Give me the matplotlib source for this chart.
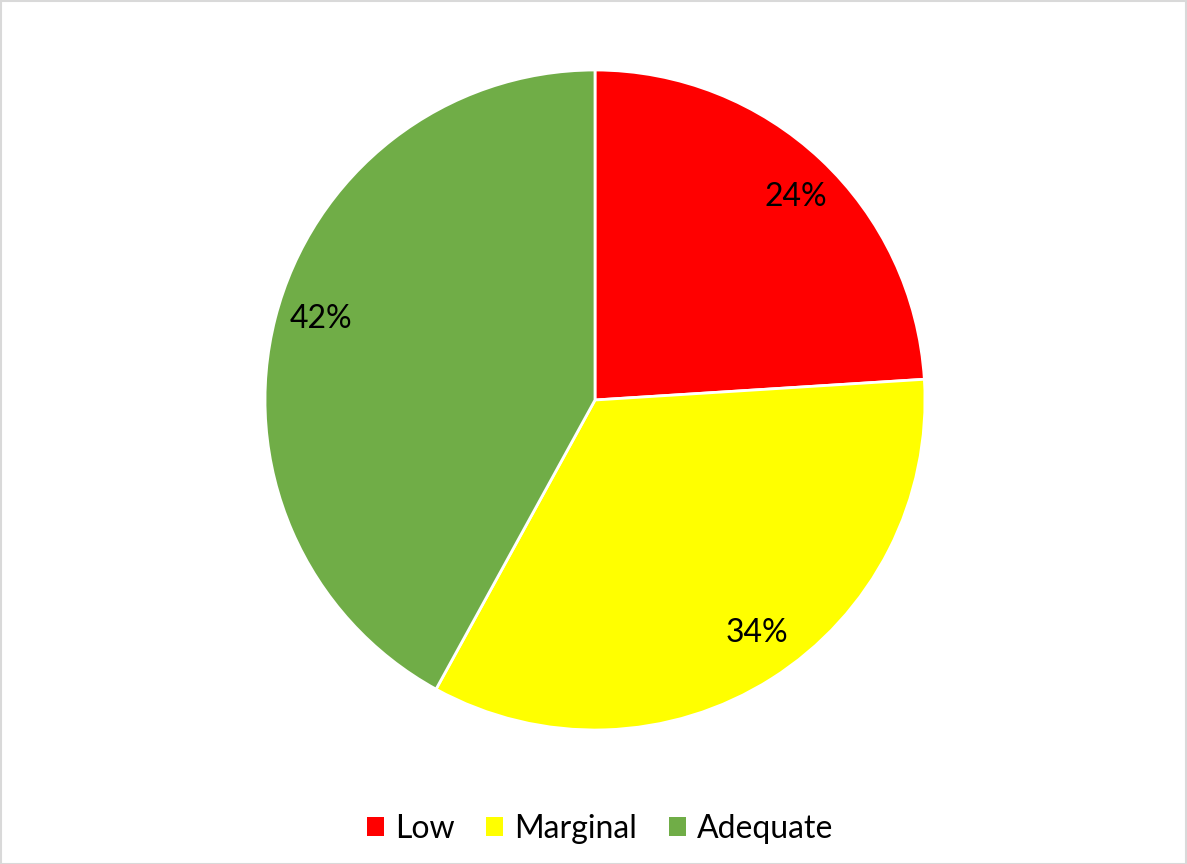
import matplotlib.pyplot as plt
from matplotlib.patches import Patch, Rectangle
import numpy as np

categories = ["Low", "Marginal", "Adequate"]
shares = [24, 34, 42]
colors = ["#FF0000", "#FFFF00", "#70AD47"]

# where each percentage label sits: (angle in degrees, radius as fraction of pie)
label_spots = [(45.4, 0.865), (-55.2, 0.86), (163.5, 0.867)]

plt.rcParams["font.family"] = ["Lato", "DejaVu Sans"]

W, H = 1187, 864
fig = plt.figure(figsize=(W / 100, H / 100), dpi=100)

cx, cy, r = 595, H - 400, 330
ax = fig.add_axes([(cx - r) / W, (cy - r) / H, 2 * r / W, 2 * r / H])
ax.pie(shares, colors=colors, startangle=90, counterclock=False,
       wedgeprops=dict(edgecolor="white", linewidth=2))
ax.set_xlim(-1, 1)
ax.set_ylim(-1, 1)
ax.set_aspect("equal")
ax.axis("off")

for val, (ang, rad) in zip(shares, label_spots):
    a = np.deg2rad(ang)
    ax.text(rad * np.cos(a), rad * np.sin(a), f"{val}%", ha="center",
            va="center", fontsize=23, color="black")

handles = [Patch(facecolor=c, edgecolor="none") for c in colors]
fig.legend(handles, categories, loc="center", bbox_to_anchor=(600 / W, 1 - 829 / H),
           ncol=3, frameon=False, fontsize=23, handlelength=0.52, handleheight=0.52,
           handletextpad=0.35, columnspacing=1.0)

fig.patches.append(Rectangle((0.5 / W, 0.5 / H), 1 - 1.5 / W, 1 - 1.5 / H,
                             transform=fig.transFigure, fill=False,
                             edgecolor="#D9D9D9", linewidth=1.5))

fig.savefig("out.png", dpi=100, facecolor="white")
